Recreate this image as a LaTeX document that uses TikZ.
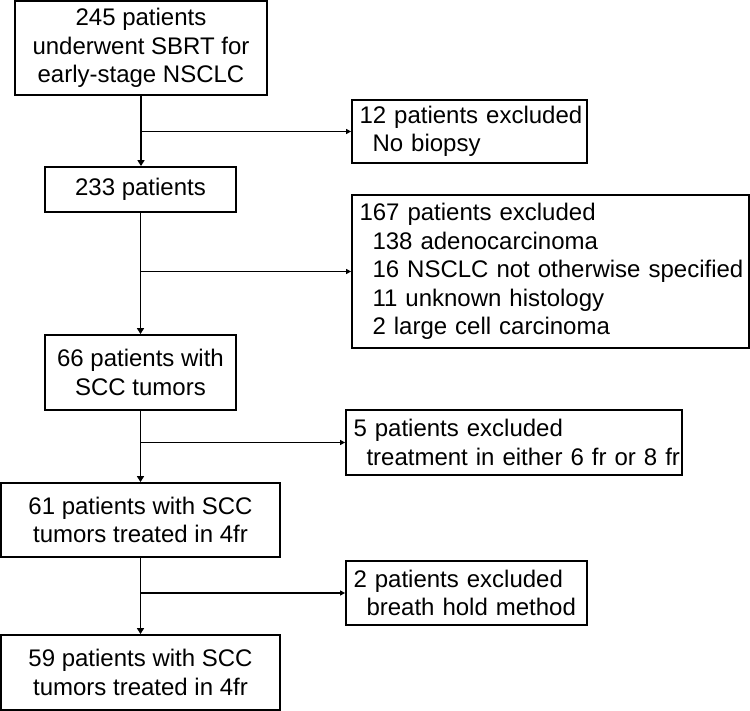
\documentclass[tikz,border=0pt]{standalone}
\usepackage{fontspec}
\setmainfont{Liberation Sans}
\usetikzlibrary{arrows.meta}
\newcommand{\xline}[1]{\mbox{#1}}
\newcommand{\xind}[1]{\mbox{\hspace*{13pt}#1}}
\begin{document}
\begin{tikzpicture}[x=1pt,y=-1pt,
  box/.style={draw, line width=1.8pt, inner sep=0pt, font=\fontsize{24}{28.5}\selectfont},
  cbox/.style 2 args={box, align=center, minimum width=#1pt, minimum height=#2pt},
  lbox/.style 2 args={box, align=left, inner xsep=7.5pt, text width=#1pt, minimum height=#2pt},
  vconn/.style={line width=1.8pt, -{Triangle[length=6pt,width=7pt]}},
  hconn/.style={line width=1.8pt, -{Triangle[length=5pt,width=5pt]}}
]
\useasboundingbox (0,0) rectangle (750,711);

% main column
\node[cbox={252}{94}] (b1) at (141,48) {245 patients\\underwent SBRT for\\early-stage NSCLC};
\node[cbox={191}{45}] (b2) at (140.5,189.5) {233 patients};
\node[cbox={191}{75}] (b3) at (140.5,372.5) {66 patients with\\SCC tumors};
\node[cbox={279}{74}] (b4) at (140.5,520) {61 patients with SCC\\tumors treated in 4fr};
\node[cbox={279}{75}] (b5) at (140.5,672.5) {59 patients with SCC\\tumors treated in 4fr};

% exclusion boxes
\node[lbox={220}{63}] (e1) at (469.5,131.5) {\xline{12 patients excluded}\\\xind{No biopsy}};
\node[lbox={382}{153}] (e2) at (550.5,271.5) {\xline{167 patients excluded}\\\xind{138 adenocarcinoma}\\\xind{16 NSCLC not otherwise specified}\\\xind{11 unknown histology}\\\xind{2 large cell carcinoma}};
\node[lbox={321}{65}] (e3) at (514,442.5) {\xline{5 patients excluded}\\\xind{treatment in either 6 fr or 8 fr}};
\node[lbox={226}{64}] (e4) at (466.5,593) {\xline{2 patients excluded}\\\xind{breath hold method}};

% vertical connectors
\draw[vconn] (b1.south) -- (b1.south |- b2.north);
\draw[vconn] (b2.south) -- (b2.south |- b3.north);
\draw[vconn] (b3.south) -- (b3.south |- b4.north);
\draw[vconn] (b4.south) -- (b4.south |- b5.north);

% branches
\draw[hconn] (b1.south |- e1.west) -- (e1.west);
\draw[hconn] (b2.south |- e2.west) -- (e2.west);
\draw[hconn] (b3.south |- e3.west) -- (e3.west);
\draw[hconn] (b4.south |- e4.west) -- (e4.west);
\end{tikzpicture}
\end{document}
